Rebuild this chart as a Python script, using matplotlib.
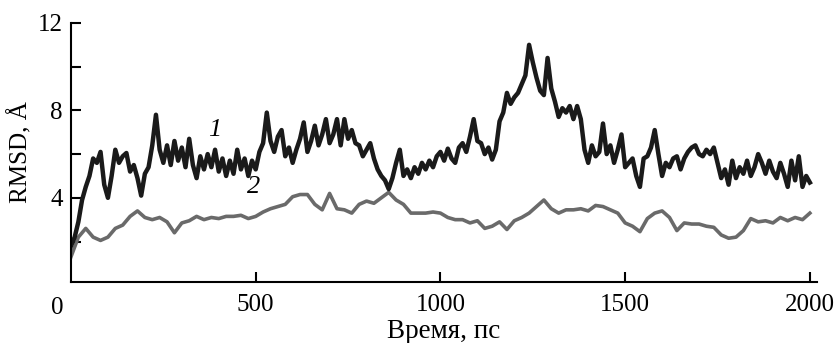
import numpy as np
import matplotlib
matplotlib.use("Agg")
import matplotlib.pyplot as plt

plt.rcParams['font.family'] = ['Liberation Serif', 'DejaVu Serif']

# --- данные ---
t_black = np.arange(0, 2001, 10)
rmsd_1 = [
    1.8, 2.2, 2.9, 3.9, 4.5, 5.0, 5.8, 5.6, 6.1, 4.6,
    4.0, 5.0, 6.2, 5.6, 5.9, 6.05, 5.2, 5.5, 4.9, 4.1,
    5.1, 5.4, 6.4, 7.8, 6.2, 5.6, 6.4, 5.5, 6.6, 5.7,
    6.3, 5.4, 6.7, 5.5, 4.9, 5.9, 5.3, 6.0, 5.4, 6.2,
    5.2, 5.8, 5.0, 5.7, 5.1, 6.2, 5.3, 5.8, 5.0, 5.7,
    5.3, 6.1, 6.5, 7.9, 6.6, 6.1, 6.8, 7.1, 5.9, 6.3,
    5.6, 6.2, 6.7, 7.45, 6.1, 6.6, 7.3, 6.4, 6.9, 7.6,
    6.5, 6.9, 7.6, 6.4, 7.6, 6.7, 7.1, 6.5, 6.4, 5.9,
    6.2, 6.5, 5.8, 5.3, 5.0, 4.8, 4.4, 4.9, 5.6, 6.2,
    5.0, 5.3, 4.9, 5.4, 5.1, 5.6, 5.3, 5.7, 5.4, 5.9,
    6.1, 5.7, 6.25, 5.8, 5.6, 6.3, 6.5, 6.1, 6.8, 7.6,
    6.6, 6.5, 6.0, 6.3, 5.75, 6.2, 7.5, 7.9, 8.8, 8.3,
    8.6, 8.8, 9.2, 9.6, 11.0, 10.2, 9.5, 8.9, 8.7, 10.4,
    9.0, 8.4, 7.7, 8.1, 7.9, 8.2, 7.6, 8.2, 7.6, 6.2,
    5.6, 6.4, 5.9, 6.1, 7.4, 6.0, 6.4, 5.6, 6.2, 6.9,
    5.4, 5.6, 5.8, 5.0, 4.5, 5.8, 5.9, 6.3, 7.1, 6.0,
    5.0, 5.6, 5.4, 5.8, 5.9, 5.3, 5.8, 6.1, 6.3, 6.4,
    6.0, 5.9, 6.2, 6.0, 6.3, 5.6, 4.9, 5.3, 4.6, 5.7,
    4.9, 5.4, 5.1, 5.7, 5.0, 5.4, 6.0, 5.6, 5.1, 5.7,
    5.2, 4.9, 5.6, 5.1, 4.5, 5.7, 4.8, 5.9, 4.5, 5.0,
    4.7,
]

t_gray = np.arange(0, 2001, 20)
rmsd_2 = [
    1.3, 2.2, 2.6, 2.2, 2.05, 2.2, 2.6, 2.75, 3.15, 3.4,
    3.1, 3.0, 3.1, 2.9, 2.4, 2.85, 2.95, 3.15, 3.0, 3.1,
    3.05, 3.15, 3.15, 3.2, 3.05, 3.15, 3.35, 3.5, 3.6, 3.7,
    4.05, 4.15, 4.15, 3.7, 3.45, 4.2, 3.5, 3.45, 3.3, 3.7,
    3.85, 3.75, 4.0, 4.25, 3.9, 3.7, 3.3, 3.3, 3.3, 3.35,
    3.3, 3.1, 3.0, 3.0, 2.85, 2.95, 2.6, 2.7, 2.9, 2.55,
    2.95, 3.1, 3.3, 3.6, 3.9, 3.5, 3.3, 3.45, 3.45, 3.5,
    3.4, 3.65, 3.6, 3.45, 3.3, 2.85, 2.7, 2.45, 3.05, 3.3,
    3.4, 3.1, 2.5, 2.85, 2.8, 2.8, 2.7, 2.65, 2.3, 2.15,
    2.2, 2.5, 3.05, 2.9, 2.95, 2.85, 3.1, 2.95, 3.1, 3.0,
    3.3,
]

fig = plt.figure(figsize=(8.4, 3.43), dpi=100)
ax = fig.add_axes([0.0845, 0.178, 0.888, 0.755])

ax.plot(t_gray, rmsd_2, color='#6a6a6a', lw=2.6, solid_joinstyle='round')
ax.plot(t_black, rmsd_1, color='#1a1a1a', lw=3.2, solid_joinstyle='round')

ax.set_xlim(0, 2019)
ax.set_ylim(0.15, 12)

for s in ['top', 'right']:
    ax.spines[s].set_visible(False)
for s in ['left', 'bottom']:
    ax.spines[s].set_linewidth(1.5)

ax.set_yticks([2, 4, 6, 8, 10, 12])
ax.set_yticklabels(['', '4', '', '8', '', '12'])
ax.set_xticks([500, 1000, 1500, 2000])
ax.tick_params(direction='in', length=7, width=1.5, labelsize=18)
ax.tick_params(axis='x', pad=9)
ax.tick_params(axis='y', pad=6)
ax.text(-38, -0.55, '0', fontsize=18, ha='center', va='top')

ax.set_xlabel('Время, пс', fontsize=19.5, labelpad=2)
ax.set_ylabel('RMSD, Å', fontsize=18, labelpad=4)

ax.text(390, 7.1, '1', fontsize=19, style='italic', ha='center', va='center')
ax.text(493, 4.5, '2', fontsize=19, style='italic', ha='center', va='center')

fig.savefig('out.png', dpi=100)
